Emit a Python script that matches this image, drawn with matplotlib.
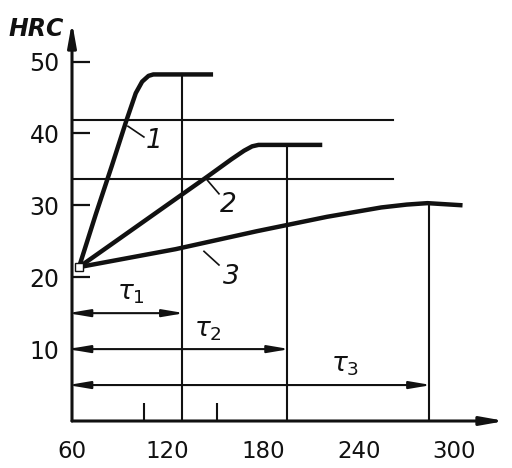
import numpy as np
import matplotlib
matplotlib.use('Agg')
import matplotlib.pyplot as plt

# hardness curves HRC vs time
c1_x = [64.4, 75, 85, 94, 100, 104, 108, 111, 148.5]
c1_y = [21.4, 28.8, 35.5, 41.7, 45.6, 47.2, 48.0, 48.2, 48.2]
c2_x = [64.4, 90, 124.5, 145, 160, 168, 173, 177, 217]
c2_y = [21.4, 25.4, 30.8, 34.0, 36.4, 37.6, 38.2, 38.4, 38.4]
c3_x = [64.4, 125, 176, 220, 254, 270, 283, 305]
c3_y = [21.4, 23.9, 26.4, 28.4, 29.7, 30.1, 30.3, 30.0]

hlines_y = [41.8, 33.7]
hline_end = 261.4
tau_x = [129, 195, 284]
tau_top = [48.2, 38.4, 30.3]
tau_y = [15, 10, 5]
tau_names = [r'$\tau_1$', r'$\tau_2$', r'$\tau_3$']
tau_lbl = [(97, 17.8), (145, 12.7), (231, 7.8)]

curve_lbl = ['1', '2', '3']
lbl_pos = [(111.4, 39.0), (157.9, 30.0), (159.8, 20.0)]
leader = [((95.1, 41.0), (105.1, 39.5)),
          ((144.1, 33.7), (152.2, 31.6)),
          ((142.8, 23.6), (152.2, 21.7))]

xticks = [60, 120, 180, 240, 300]
xminor = [105, 151, 240]
yticks = [10, 20, 30, 40, 50]

fig = plt.figure(figsize=(5.12, 4.68), dpi=100)
ax = fig.add_axes([72/512, 1-421/468, 433/512, 399/468])
ax.set_xlim(60, 60 + 433/1.594)
ax.set_ylim(0, 399/7.19)

k = '#111111'
for s in ax.spines.values():
    s.set_visible(False)

# axes with arrows
arr = dict(arrowstyle='-|>,head_length=1.4,head_width=0.25', lw=2.2, color=k,
           shrinkA=0, shrinkB=0)
ax.annotate('', xy=(1, 0), xytext=(0, 0), xycoords='axes fraction', arrowprops=arr)
ax.annotate('', xy=(0, 1), xytext=(0, 0), xycoords='axes fraction', arrowprops=arr)

ax.set_xticks(xticks)
ax.set_xticks(xminor, minor=True)
ax.set_yticks(yticks)
ax.tick_params(axis='x', which='major', length=0, pad=14, labelsize=16.5, colors=k)
ax.tick_params(axis='x', which='minor', direction='in', length=13, width=1.5, color=k)
ax.tick_params(axis='y', direction='in', length=13, width=1.6, pad=9, labelsize=17, colors=k)

for y in hlines_y:
    ax.plot([60, hline_end], [y, y], color=k, lw=1.5)
for x, top in zip(tau_x, tau_top):
    ax.plot([x, x], [0, top], color=k, lw=1.5)

for cx, cy in [(c1_x, c1_y), (c2_x, c2_y), (c3_x, c3_y)]:
    ax.plot(cx, cy, color=k, lw=3.2, solid_capstyle='butt', solid_joinstyle='round')
ax.plot(c1_x[0], c1_y[0], 's', ms=6, mfc='white', mec=k, mew=1)

for t, (tx, ty), ((x0, y0), (x1, y1)) in zip(curve_lbl, lbl_pos, leader):
    ax.plot([x0, x1], [y0, y1], color=k, lw=1.2)
    ax.text(tx, ty, t, fontsize=19, style='italic', ha='center', va='center', color=k)

for x, y, name, (lx, ly) in zip(tau_x, tau_y, tau_names, tau_lbl):
    ax.annotate('', xy=(x + 1.5, y), xytext=(57.5, y),
                arrowprops=dict(arrowstyle='<|-|>,head_length=1.3,head_width=0.22',
                                lw=1.5, color=k, shrinkA=0, shrinkB=0))
    ax.text(lx, ly, name, fontsize=19, ha='center', va='center', color=k)

fig.text(36/512, 1-29/468, 'HRC', fontsize=17, fontweight='bold', style='italic',
         ha='center', va='center', color=k)

fig.savefig('out.png', dpi=100)
